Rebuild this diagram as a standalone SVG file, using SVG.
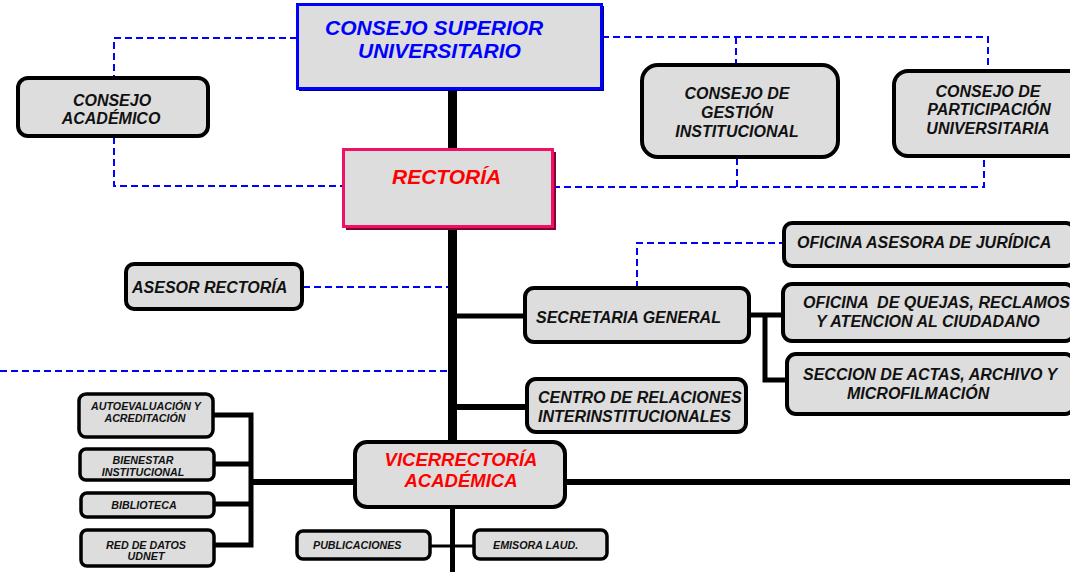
<svg xmlns="http://www.w3.org/2000/svg" width="1070" height="572" viewBox="0 0 1070 572">
<style>
text{font-family:"Liberation Sans",Arial,sans-serif;font-weight:bold;font-style:italic;fill:#111;}
.box{fill:#dddddd;stroke:#000;stroke-width:4;}
.sbox{fill:#dddddd;stroke:#000;stroke-width:3.5;}
.t16{font-size:16px;}
.t11{font-size:10.7px;}
.solid{stroke:#000;fill:none;}
.dash{stroke:#0000ff;stroke-width:2;stroke-dasharray:7 4;fill:none;}
.mid{text-anchor:middle;}
</style>
<rect width="1070" height="572" fill="#ffffff"/>
<g id="connectors">
<path class="solid" stroke-width="9" d="M452.5,89 V441"/>
<path class="solid" stroke-width="5" d="M452.5,508 V572"/>
<path class="solid" stroke-width="5" d="M452,316 H525"/>
<path class="solid" stroke-width="6" d="M452,407 H527"/>
<path class="solid" stroke-width="5" d="M750,315 H783 M765,315 V382.5 M765,380 H787"/>
<path class="solid" stroke-width="6" d="M251,482 H354"/>
<path class="solid" stroke-width="5" d="M251,412.5 V547.5 M214,415 H253.5 M215,464 H251 M215,504 H251 M215,545 H251"/>
<path class="solid" stroke-width="6" d="M566,482 H1070"/>
<path class="solid" stroke-width="3" d="M430,546 H473"/>
<path class="dash" d="M297,38 H114 V77"/>
<path class="dash" d="M114,137 V186 H343"/>
<path class="dash" d="M602,37 H988 V70 M736,37 V64"/>
<path class="dash" d="M553,187 H984 V157 M737,158 V187"/>
<path class="dash" d="M303,287 H448"/>
<path class="dash" d="M0,371 H448"/>
<path class="dash" d="M637,288 V243 H783"/>
</g>
<g id="consejo-superior">
<rect x="299" y="6" width="305" height="85" fill="#000080"/>
<rect x="297.5" y="4.5" width="304" height="84" fill="#dddddd" stroke="#0000ff" stroke-width="3"/>
<text x="325" y="35" style="font-size:21px;fill:#0000ff">CONSEJO SUPERIOR</text>
<text x="358" y="58" style="font-size:21px;fill:#0000ff">UNIVERSITARIO</text>
</g>
<g id="rectoria">
<rect x="346" y="152" width="210" height="78" fill="#800030"/>
<rect x="343.5" y="149.5" width="209" height="77" fill="#dddddd" stroke="#ee1166" stroke-width="3"/>
<text x="392" y="184" style="font-size:21px;fill:#ff0000">RECTORÍA</text>
</g>
<g id="consejo-academico">
<rect class="box" x="18" y="78" width="190" height="58" rx="10"/>
<text class="t16 mid" x="112" y="106">CONSEJO</text>
<text class="t16 mid" x="111" y="124">ACADÉMICO</text>
</g>
<g id="consejo-gestion">
<rect class="box" x="642" y="65" width="196" height="92" rx="16"/>
<text class="t16 mid" x="737" y="99">CONSEJO DE</text>
<text class="t16 mid" x="737" y="118">GESTIÓN</text>
<text class="t16 mid" x="737" y="137">INSTITUCIONAL</text>
</g>
<g id="consejo-participacion">
<rect class="box" x="894" y="71" width="190" height="85" rx="14"/>
<text class="t16 mid" x="988" y="97">CONSEJO DE</text>
<text class="t16 mid" x="989" y="115">PARTICIPACIÓN</text>
<text class="t16 mid" x="988" y="134">UNIVERSITARIA</text>
</g>
<g id="asesor-rectoria">
<rect class="box" x="126" y="264" width="176" height="45" rx="8"/>
<text class="t16" x="132" y="293">ASESOR RECTORÍA</text>
</g>
<g id="oficina-juridica">
<rect class="box" x="784" y="223" width="290" height="43" rx="8"/>
<text class="t16" x="797" y="248">OFICINA ASESORA DE JURÍDICA</text>
</g>
<g id="secretaria-general">
<rect class="box" x="525" y="288" width="224" height="54" rx="9"/>
<text class="t16" x="536" y="323">SECRETARIA GENERAL</text>
</g>
<g id="oficina-quejas">
<rect class="box" x="783" y="284" width="291" height="57" rx="9"/>
<text class="t16" x="803" y="308" xml:space="preserve">OFICINA  DE QUEJAS, RECLAMOS</text>
<text class="t16" x="816" y="327">Y ATENCION AL CIUDADANO</text>
</g>
<g id="seccion-actas">
<rect class="box" x="787" y="354" width="287" height="60" rx="9"/>
<text class="t16" x="803" y="380">SECCION DE ACTAS, ARCHIVO Y</text>
<text class="t16" x="847" y="399">MICROFILMACIÓN</text>
</g>
<g id="centro-relaciones">
<rect class="box" x="527" y="379" width="219" height="53" rx="9"/>
<text class="t16" x="538" y="403">CENTRO DE RELACIONES</text>
<text class="t16" x="538" y="422">INTERINSTITUCIONALES</text>
</g>
<g id="vicerrectoria">
<rect class="box" x="355" y="442" width="210" height="65" rx="12"/>
<text class="mid" x="461" y="466" style="font-size:18.5px;fill:#ff0000">VICERRECTORÍA</text>
<text class="mid" x="461" y="487" style="font-size:18.5px;fill:#ff0000">ACADÉMICA</text>
</g>
<g id="autoevaluacion">
<rect class="sbox" x="79" y="394" width="134" height="43" rx="7"/>
<text class="t11 mid" x="146" y="410">AUTOEVALUACIÓN Y</text>
<text class="t11 mid" x="145" y="422">ACREDITACIÓN</text>
</g>
<g id="bienestar">
<rect class="sbox" x="80" y="449" width="134" height="31" rx="6"/>
<text class="t11 mid" x="143" y="464">BIENESTAR</text>
<text class="t11 mid" x="143" y="476">INSTITUCIONAL</text>
</g>
<g id="biblioteca">
<rect class="sbox" x="81" y="493" width="133" height="24" rx="6"/>
<text class="t11 mid" x="144" y="509">BIBLIOTECA</text>
</g>
<g id="red-datos">
<rect class="sbox" x="81" y="530" width="133" height="36" rx="6"/>
<text class="t11 mid" x="146" y="549">RED DE DATOS</text>
<text class="t11 mid" x="146" y="560">UDNET</text>
</g>
<g id="publicaciones">
<rect class="sbox" x="297" y="531" width="133" height="28" rx="6"/>
<text class="t11" x="313" y="549">PUBLICACIONES</text>
</g>
<g id="emisora">
<rect class="sbox" x="474" y="530" width="133" height="29" rx="6"/>
<text class="t11" x="493" y="549">EMISORA LAUD.</text>
</g>
</svg>
